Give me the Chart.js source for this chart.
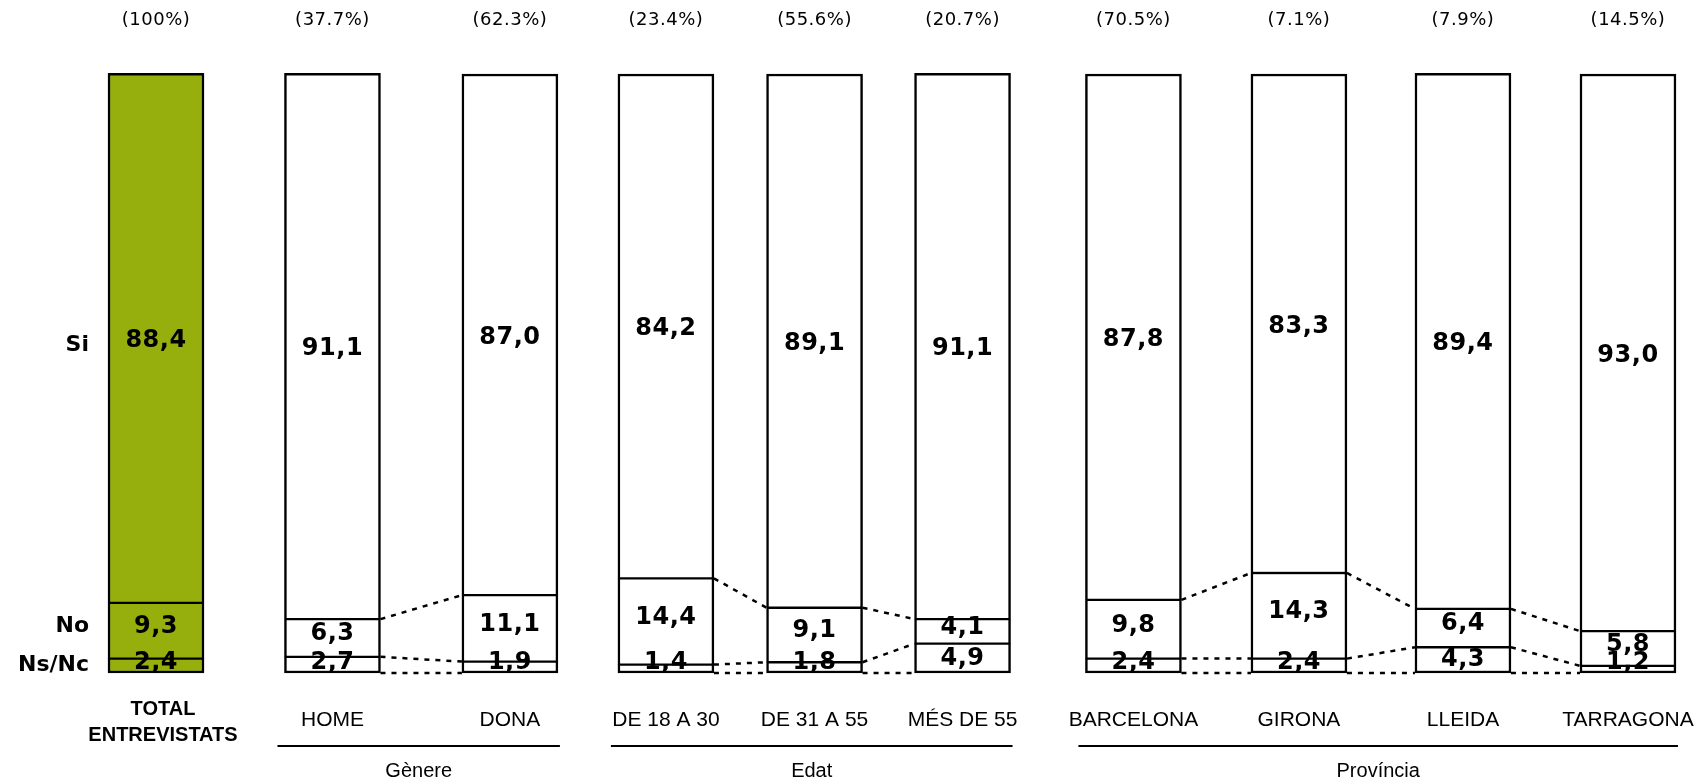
<!DOCTYPE html>
<html>
<head>
<meta charset="utf-8">
<script src="https://cdn.jsdelivr.net/npm/chart.js@4.4.1/dist/chart.umd.min.js"></script>
<style>
  html, body { margin: 0; padding: 0; background: #ffffff; }
  canvas { display: block; }
</style>
</head>
<body>
<canvas id="chart" width="1700" height="782"></canvas>
<script>
// Survey answers (%) by respondent profile
const categories = ['TOTAL ENTREVISTATS', 'HOME', 'DONA', 'DE 18 A 30', 'DE 31 A 55', 'MÉS DE 55',
                    'BARCELONA', 'GIRONA', 'LLEIDA', 'TARRAGONA'];
const sampleShare = ['(100%)', '(37.7%)', '(62.3%)', '(23.4%)', '(55.6%)', '(20.7%)',
                     '(70.5%)', '(7.1%)', '(7.9%)', '(14.5%)'];
const si   = [88.4, 91.1, 87.0, 84.2, 89.1, 91.1, 87.8, 83.3, 89.4, 93.0];
const no   = [9.3, 6.3, 11.1, 14.4, 9.1, 4.1, 9.8, 14.3, 6.4, 5.8];
const nsnc = [2.4, 2.7, 1.9, 1.4, 1.8, 4.9, 2.4, 2.4, 4.3, 1.2];
const seriesNames = ['Ns/Nc', 'No', 'Si'];
const groupNames = ['Gènere', 'Edat', 'Província'];
const groupMembers = [[1, 2], [3, 4, 5], [6, 7, 8, 9]];

// Page layout: bar slots along a linear x axis, sizes and styles
const LAYOUT = {
  slots: [0.953, 2.031, 3.115, 4.068, 4.976, 5.880, 6.924, 7.935, 8.937, 9.945],
  xMax: 10.385,
  barWidth: 96,
  padTop: 74,
  padBottom: 109,
  totalFill: '#97AF0C',
  fill: '#ffffff',
  ink: '#000000'
};

const fmt = v => v.toFixed(1).replace('.', ',');

const borders = [
  { top: 1.5, bottom: 2.5, left: 2.5, right: 2.5 },
  { top: 1.5, bottom: 1.5, left: 2.5, right: 2.5 },
  { top: 2.5, bottom: 1.5, left: 2.5, right: 2.5 }
];

const datasets = [nsnc, no, si].map((arr, s) => ({
  label: seriesNames[s],
  data: arr.map((v, i) => ({ x: LAYOUT.slots[i], y: v })),
  backgroundColor: c => (c.dataIndex === 0 ? LAYOUT.totalFill : LAYOUT.fill),
  borderColor: LAYOUT.ink,
  borderWidth: borders[s],
  borderSkipped: false,
  barThickness: LAYOUT.barWidth,
  clip: false
}));

function drawText(ctx, text, x, y, font, align, spacing) {
  ctx.font = font;
  ctx.textAlign = align || 'center';
  ctx.textBaseline = 'middle';
  ctx.letterSpacing = spacing || '0px';
  ctx.fillText(text, x, y);
}

const annotations = {
  id: 'annotations',
  afterDatasetsDraw(chart) {
    const ctx = chart.ctx;
    const metas = [0, 1, 2].map(i => chart.getDatasetMeta(i).data);
    ctx.save();
    ctx.fillStyle = LAYOUT.ink;
    ctx.strokeStyle = LAYOUT.ink;

    // dotted links between neighbouring bars of a group
    ctx.lineWidth = 2.5;
    ctx.setLineDash([5, 6]);
    groupMembers.forEach(members => {
      for (let k = 0; k < members.length - 1; k++) {
        const a = members[k], b = members[k + 1];
        const ea = metas[0][a], eb = metas[0][b];
        const levelsA = [ea.base, ea.y, metas[1][a].y];
        const levelsB = [eb.base, eb.y, metas[1][b].y];
        const x1 = ea.x + ea.width / 2;
        const x2 = eb.x - eb.width / 2;
        levelsA.forEach((ya, j) => {
          ctx.beginPath();
          ctx.moveTo(x1, ya);
          ctx.lineTo(x2, levelsB[j]);
          ctx.stroke();
        });
      }
    });
    ctx.setLineDash([]);

    // value labels inside the segments
    const valueFont = 'bold 24px "DejaVu Sans", Verdana, sans-serif';
    [nsnc, no, si].forEach((arr, s) => {
      arr.forEach((v, i) => {
        const el = metas[s][i];
        const mid = (el.y + el.base) / 2;
        let y;
        if (s === 0) y = Math.min(mid, el.base - 10);
        else if (s === 1) y = mid - 4;
        else y = mid + 3;
        drawText(ctx, fmt(v), el.x, y, valueFont, 'center', '0.5px');
      });
    });

    // answer names at the left of the first bar
    const first = [metas[0][0], metas[1][0], metas[2][0]];
    const nameX = first[0].x - first[0].width / 2 - 19;
    const nameFont = 'bold 22px "DejaVu Sans", Verdana, sans-serif';
    drawText(ctx, seriesNames[2], nameX, (first[2].y + first[2].base) / 2 + 7, nameFont, 'right');
    drawText(ctx, seriesNames[1], nameX, (first[1].y + first[1].base) / 2 - 4, nameFont, 'right');
    drawText(ctx, seriesNames[0], nameX, Math.min((first[0].y + first[0].base) / 2, first[0].base - 8), nameFont, 'right');

    // sample share above each bar
    const shareFont = '18px "DejaVu Sans", Verdana, sans-serif';
    sampleShare.forEach((t, i) => {
      drawText(ctx, t, metas[0][i].x, 20, shareFont, 'center', '0.5px');
    });

    // category names under the bars
    const catFont = '21px "Liberation Sans", Arial, sans-serif';
    categories.forEach((t, i) => {
      const x = metas[0][i].x;
      if (i === 0) {
        const words = t.split(' ');
        const boldFont = 'bold 20px "Liberation Sans", Arial, sans-serif';
        drawText(ctx, words[0], x + 7, 709, boldFont);
        drawText(ctx, words[1], x + 7, 735, boldFont);
      } else {
        drawText(ctx, t, x, 720, catFont);
      }
    });

    // group rules and names
    ctx.lineWidth = 2;
    groupMembers.forEach((members, g) => {
      const f = metas[0][members[0]];
      const l = metas[0][members[members.length - 1]];
      const x1 = f.x - f.width / 2 - 7;
      const x2 = l.x + l.width / 2 + 2;
      ctx.beginPath();
      ctx.moveTo(x1, 746);
      ctx.lineTo(x2, 746);
      ctx.stroke();
      drawText(ctx, groupNames[g], (x1 + x2) / 2, 771,
               '20px "Liberation Sans", Arial, sans-serif', 'center');
    });

    ctx.restore();
  }
};

new Chart(document.getElementById('chart'), {
  type: 'bar',
  data: { datasets },
  options: {
    responsive: false,
    animation: false,
    devicePixelRatio: 1,
    layout: { padding: { top: LAYOUT.padTop, bottom: LAYOUT.padBottom, left: 0, right: 0 } },
    scales: {
      x: { type: 'linear', min: 0, max: LAYOUT.xMax, stacked: true, offset: false, display: false },
      y: { min: 0, max: 100, stacked: true, display: false }
    },
    plugins: { legend: { display: false }, tooltip: { enabled: false } }
  },
  plugins: [annotations]
});
</script>
</body>
</html>
